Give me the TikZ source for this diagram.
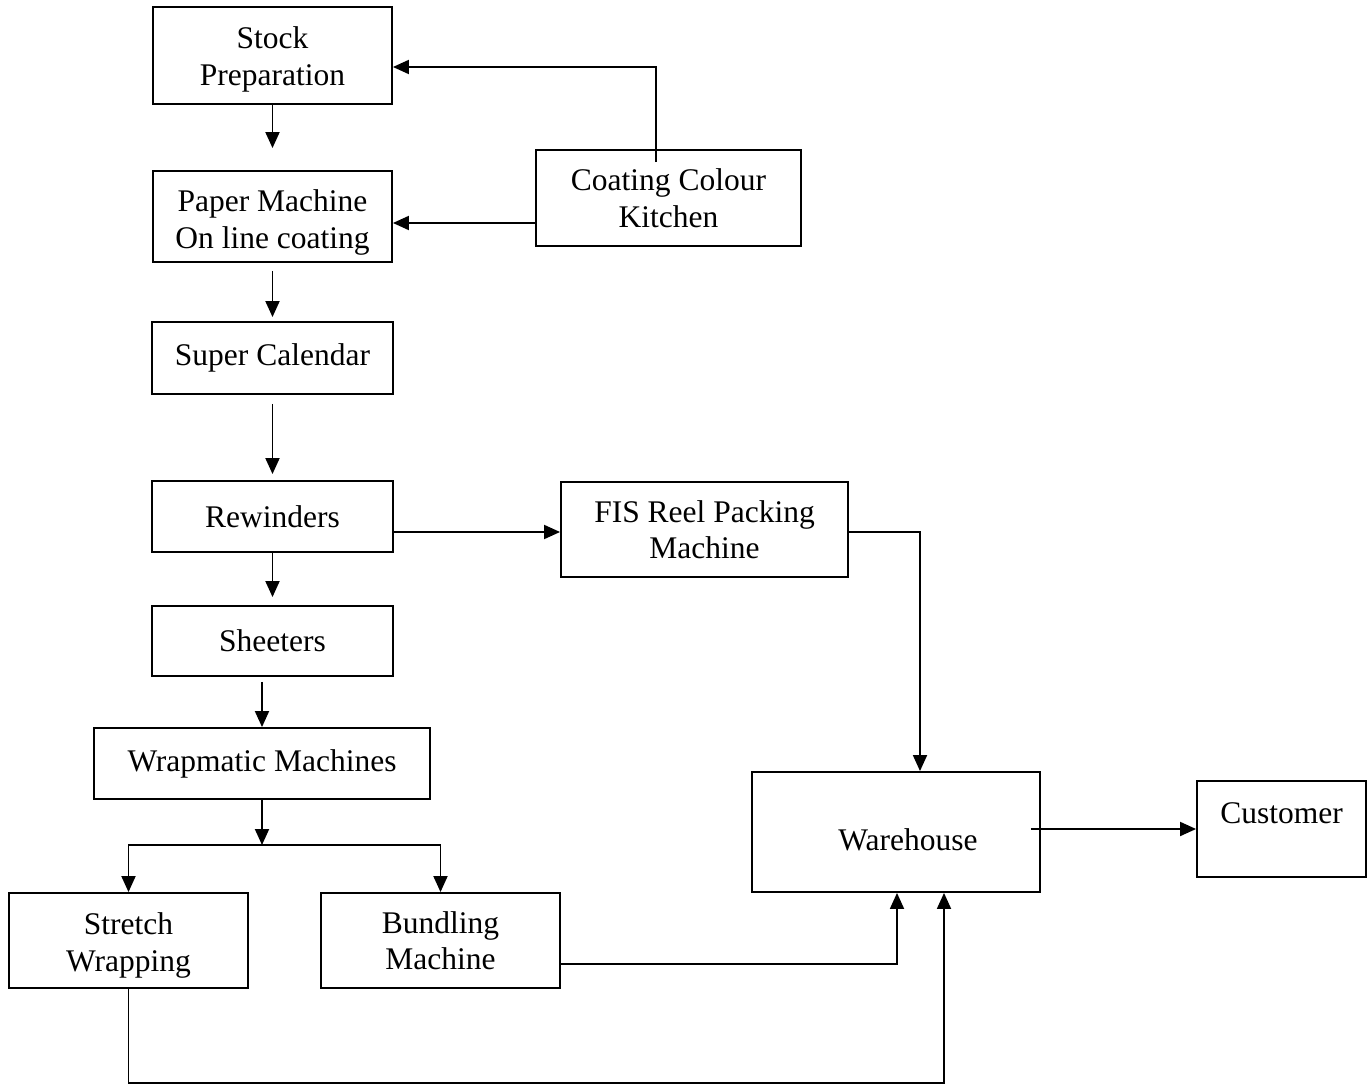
\documentclass[tikz,border=0pt]{standalone}
\usepackage{fontspec}
\setmainfont{Liberation Serif}
\usetikzlibrary{arrows.meta,calc}

\begin{document}
\begin{tikzpicture}[
  x=0.4pt, y=-0.4pt,
  box/.style={rectangle, draw, line width=0.75pt, align=center, inner sep=2pt, font=\fontsize{12.6}{14.6}\selectfont},
  arrow/.style={-{Triangle[length=6.4pt,width=5.6pt]}, line width=0.75pt}
]
  \useasboundingbox (0,0) rectangle (1372,1084);

  \node[box, minimum width=95.6pt, minimum height=38.8pt] (stock) at (272.5,55.5) {\rule{0pt}{12pt}Stock\\Preparation};
  \node[box, minimum width=95.6pt, minimum height=36.4pt] (paper) at (272.5,216.5) {\rule{0pt}{13.5pt}Paper Machine\\On line coating};
  \node[box, minimum width=106pt, minimum height=38.4pt] (coat) at (668.5,198) {Coating Colour\\Kitchen};
  \node[box, minimum width=96.4pt, minimum height=28.8pt] (super) at (272.5,358) {Super Calendar};
  \node[box, minimum width=96.4pt, minimum height=28.4pt] (rew) at (272.5,516.5) {Rewinders};
  \node[box, minimum width=114.8pt, minimum height=38pt] (fis) at (704.5,529.5) {FIS Reel Packing\\Machine};
  \node[box, minimum width=96.4pt, minimum height=28pt] (sheet) at (272.5,641) {Sheeters};
  \node[box, minimum width=134.4pt, minimum height=28.4pt] (wrap) at (262,763.5) {Wrapmatic Machines};
  \node[box, minimum width=95.6pt, minimum height=38pt] (stretch) at (128.5,940.5) {\rule{0pt}{12.7pt}Stretch\\Wrapping};
  \node[box, minimum width=95.6pt, minimum height=38pt] (bundle) at (440.5,940.5) {Bundling\\Machine};
  \node[box, minimum width=115.2pt, minimum height=48pt] (ware) at (896,832) {\hspace*{9.6pt}\raisebox{-3.2pt}[\height][\depth]{Warehouse}};
  \node[box, minimum width=67.6pt, minimum height=38.4pt] (cust) at (1281.5,829) {\raisebox{6.4pt}[\height][\depth]{Customer}};

  \coordinate (split) at (262,845);

  % main line
  \draw[arrow, shorten >=8.8pt] (stock) -- (paper);
  \draw[arrow, shorten <=3.2pt, shorten >=1.6pt] (paper) -- (super);
  \draw[arrow, shorten <=3.6pt, shorten >=2.4pt] (super) -- (rew);
  \draw[arrow, shorten >=3.2pt] (rew) -- (sheet);
  \draw[arrow, shorten <=2pt] (wrap.north |- sheet.south) -- (wrap.north);
  \draw[arrow] (wrap) -- (split);
  \draw[arrow] (split) -| (stretch);
  \draw[arrow] (split) -| (bundle);

  % coating colour feeds
  \draw[arrow] ($(coat.north)+(-12.5,13)$) |- ($(stock.east)+(0,11.5)$);
  \draw[arrow] ($(coat.west)+(0,25)$) -- ($(paper.east)+(0,6.5)$);

  % to warehouse
  \draw[arrow] ($(rew.east)+(0,15.5)$) -- ($(fis.west)+(0,2.5)$);
  \draw[arrow] ($(fis.east)+(0,2.5)$) -| ($(ware.north)+(24,0)$);
  \draw[arrow] ($(bundle.east)+(0,23.5)$) -| ($(ware.south)+(1,0)$);
  \draw[arrow] (stretch.south) -- ++(0,94) -| ($(ware.south)+(48,0)$);
  \draw[arrow] ($(ware.east)+(-10,-3)$) -- (cust.west);
\end{tikzpicture}
\end{document}
